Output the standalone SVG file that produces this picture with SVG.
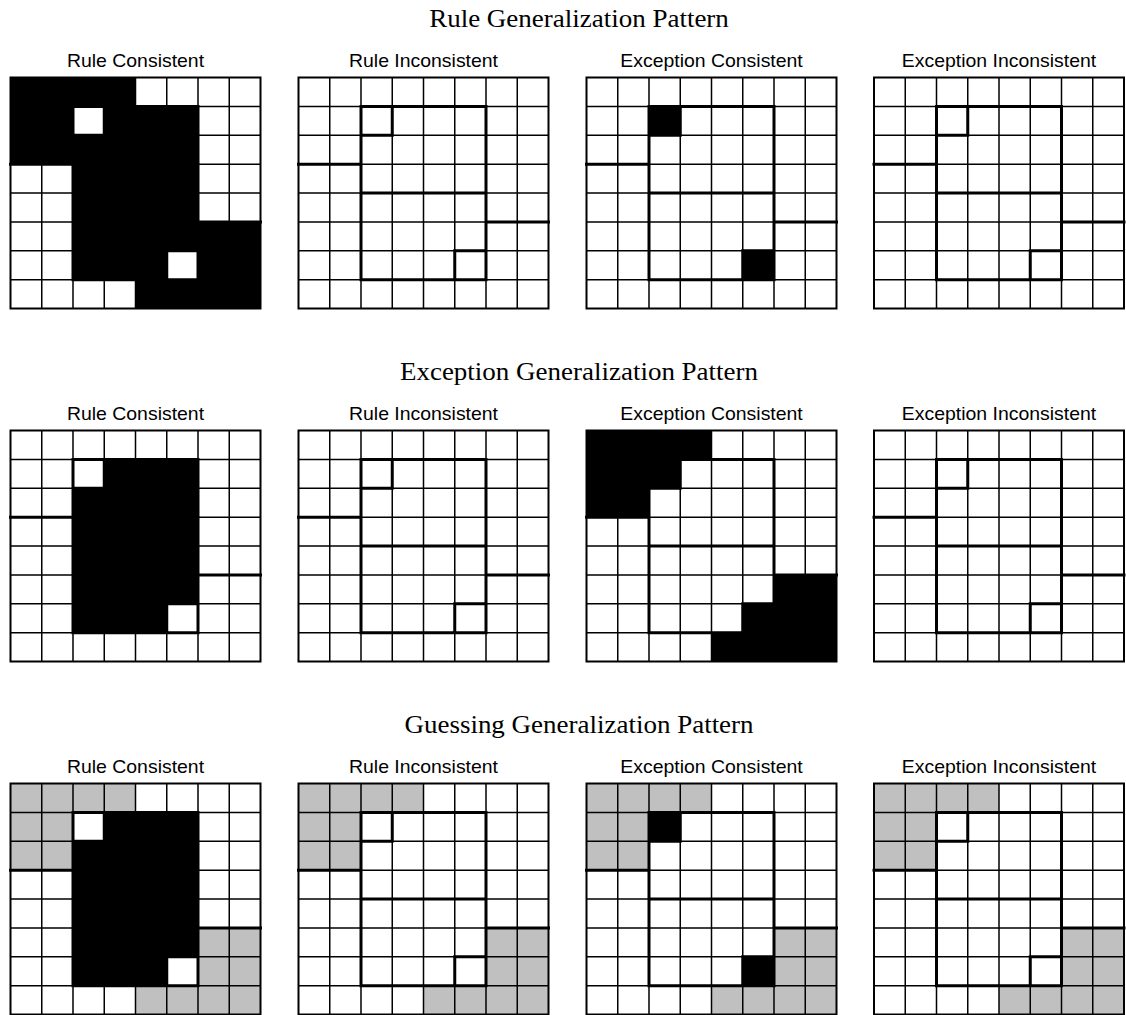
<svg xmlns="http://www.w3.org/2000/svg" xmlns:xlink="http://www.w3.org/1999/xlink" width="1126" height="1015" viewBox="0 0 1126 1015">
<style>
.bg{fill:#fff}
.blk{fill:#000}
.gry{fill:#c0c0c0}
.wht{fill:#fff}
.thin{fill:none;stroke:#000;stroke-width:1.5}
.thick{fill:none;stroke:#000;stroke-width:3;stroke-linecap:square}
.border{fill:none;stroke:#000;stroke-width:2}
.sub{font-family:"Liberation Sans",Arial,sans-serif;font-size:18px;text-anchor:middle;fill:#000}
.title{font-family:"Liberation Serif","Times New Roman",serif;font-size:25px;text-anchor:middle;fill:#000}
</style>
<defs>
<g id="lines">
<path class="thin" d="M0,28.875H250M0,57.75H250M0,86.625H250M0,115.5H250M0,144.375H250M0,173.25H250M0,202.125H250M31.25,0V231M62.5,0V231M93.75,0V231M125,0V231M156.25,0V231M187.5,0V231M218.75,0V231"/>
<path class="thick" d="M62.5,28.875H187.5M62.5,57.75H93.75M0,86.625H62.5M62.5,115.5H187.5M187.5,144.375H250M156.25,173.25H187.5M62.5,202.125H187.5M62.5,28.875V202.125M93.75,28.875V57.75M156.25,173.25V202.125M187.5,28.875V202.125"/>
<rect class="border" x="0" y="0" width="250" height="231"/>
</g>
<g id="gray">
<rect class="gry" x="0" y="0" width="125" height="28.875"/>
<rect class="gry" x="0" y="28.875" width="62.5" height="57.75"/>
<rect class="gry" x="187.5" y="144.375" width="62.5" height="57.75"/>
<rect class="gry" x="125" y="202.125" width="125" height="28.875"/>
</g>
<g id="excCells">
<rect class="blk" x="62.5" y="28.875" width="31.25" height="28.875"/>
<rect class="blk" x="156.25" y="173.25" width="31.25" height="28.875"/>
</g>
<g id="ruleBlock">
<rect class="blk" x="62.5" y="28.875" width="125" height="173.25"/>
<rect class="wht" x="62.5" y="28.875" width="31.25" height="28.875"/>
<rect class="wht" x="156.25" y="173.25" width="31.25" height="28.875"/>
</g>
</defs>
<rect class="bg" x="0" y="0" width="1126" height="1015"/>

<g id="title-rule"><text class="title" transform="translate(579,26.5) scale(1.08,1)">Rule Generalization Pattern</text></g>
<g id="title-exception"><text class="title" transform="translate(579,379.5) scale(1.08,1)">Exception Generalization Pattern</text></g>
<g id="title-guessing"><text class="title" transform="translate(579,732.5) scale(1.08,1)">Guessing Generalization Pattern</text></g>

<!-- Row 1: Rule Generalization -->
<g id="rg-rule-consistent">
<text class="sub" transform="translate(135.5,66.5) scale(1.08,1)">Rule Consistent</text>
<g transform="translate(10.5,77.5)">
<rect class="bg" x="0" y="0" width="250" height="231"/>
<rect class="blk" x="0" y="0" width="125" height="86.625"/>
<rect class="blk" x="125" y="28.875" width="62.5" height="202.125"/>
<rect class="blk" x="62.5" y="86.625" width="62.5" height="115.5"/>
<rect class="blk" x="187.5" y="144.375" width="62.5" height="86.625"/>
<rect class="wht" x="62.5" y="28.875" width="31.25" height="28.875"/>
<rect class="wht" x="156.25" y="173.25" width="31.25" height="28.875"/>
<use xlink:href="#lines"/>
</g>
</g>
<g id="rg-rule-inconsistent">
<text class="sub" transform="translate(423.5,66.5) scale(1.08,1)">Rule Inconsistent</text>
<g transform="translate(298.5,77.5)">
<rect class="bg" x="0" y="0" width="250" height="231"/>
<use xlink:href="#lines"/>
</g>
</g>
<g id="rg-exception-consistent">
<text class="sub" transform="translate(711.5,66.5) scale(1.08,1)">Exception Consistent</text>
<g transform="translate(586.5,77.5)">
<rect class="bg" x="0" y="0" width="250" height="231"/>
<use xlink:href="#excCells"/>
<use xlink:href="#lines"/>
</g>
</g>
<g id="rg-exception-inconsistent">
<text class="sub" transform="translate(999,66.5) scale(1.08,1)">Exception Inconsistent</text>
<g transform="translate(874,77.5)">
<rect class="bg" x="0" y="0" width="250" height="231"/>
<use xlink:href="#lines"/>
</g>
</g>

<!-- Row 2: Exception Generalization -->
<g id="eg-rule-consistent">
<text class="sub" transform="translate(135.5,419.5) scale(1.08,1)">Rule Consistent</text>
<g transform="translate(10.5,430.5)">
<rect class="bg" x="0" y="0" width="250" height="231"/>
<use xlink:href="#ruleBlock"/>
<use xlink:href="#lines"/>
</g>
</g>
<g id="eg-rule-inconsistent">
<text class="sub" transform="translate(423.5,419.5) scale(1.08,1)">Rule Inconsistent</text>
<g transform="translate(298.5,430.5)">
<rect class="bg" x="0" y="0" width="250" height="231"/>
<use xlink:href="#lines"/>
</g>
</g>
<g id="eg-exception-consistent">
<text class="sub" transform="translate(711.5,419.5) scale(1.08,1)">Exception Consistent</text>
<g transform="translate(586.5,430.5)">
<rect class="bg" x="0" y="0" width="250" height="231"/>
<path class="blk" d="M0,0H125V28.875H93.75V57.75H62.5V86.625H0Z M250,144.375V231H125V202.125H156.25V173.25H187.5V144.375Z"/>
<use xlink:href="#lines"/>
</g>
</g>
<g id="eg-exception-inconsistent">
<text class="sub" transform="translate(999,419.5) scale(1.08,1)">Exception Inconsistent</text>
<g transform="translate(874,430.5)">
<rect class="bg" x="0" y="0" width="250" height="231"/>
<use xlink:href="#lines"/>
</g>
</g>

<!-- Row 3: Guessing Generalization -->
<g id="gg-rule-consistent">
<text class="sub" transform="translate(135.5,772.5) scale(1.08,1)">Rule Consistent</text>
<g transform="translate(10.5,783.5)">
<rect class="bg" x="0" y="0" width="250" height="231"/>
<use xlink:href="#gray"/>
<use xlink:href="#ruleBlock"/>
<use xlink:href="#lines"/>
</g>
</g>
<g id="gg-rule-inconsistent">
<text class="sub" transform="translate(423.5,772.5) scale(1.08,1)">Rule Inconsistent</text>
<g transform="translate(298.5,783.5)">
<rect class="bg" x="0" y="0" width="250" height="231"/>
<use xlink:href="#gray"/>
<use xlink:href="#lines"/>
</g>
</g>
<g id="gg-exception-consistent">
<text class="sub" transform="translate(711.5,772.5) scale(1.08,1)">Exception Consistent</text>
<g transform="translate(586.5,783.5)">
<rect class="bg" x="0" y="0" width="250" height="231"/>
<use xlink:href="#gray"/>
<use xlink:href="#excCells"/>
<use xlink:href="#lines"/>
</g>
</g>
<g id="gg-exception-inconsistent">
<text class="sub" transform="translate(999,772.5) scale(1.08,1)">Exception Inconsistent</text>
<g transform="translate(874,783.5)">
<rect class="bg" x="0" y="0" width="250" height="231"/>
<use xlink:href="#gray"/>
<use xlink:href="#lines"/>
</g>
</g>
</svg>
